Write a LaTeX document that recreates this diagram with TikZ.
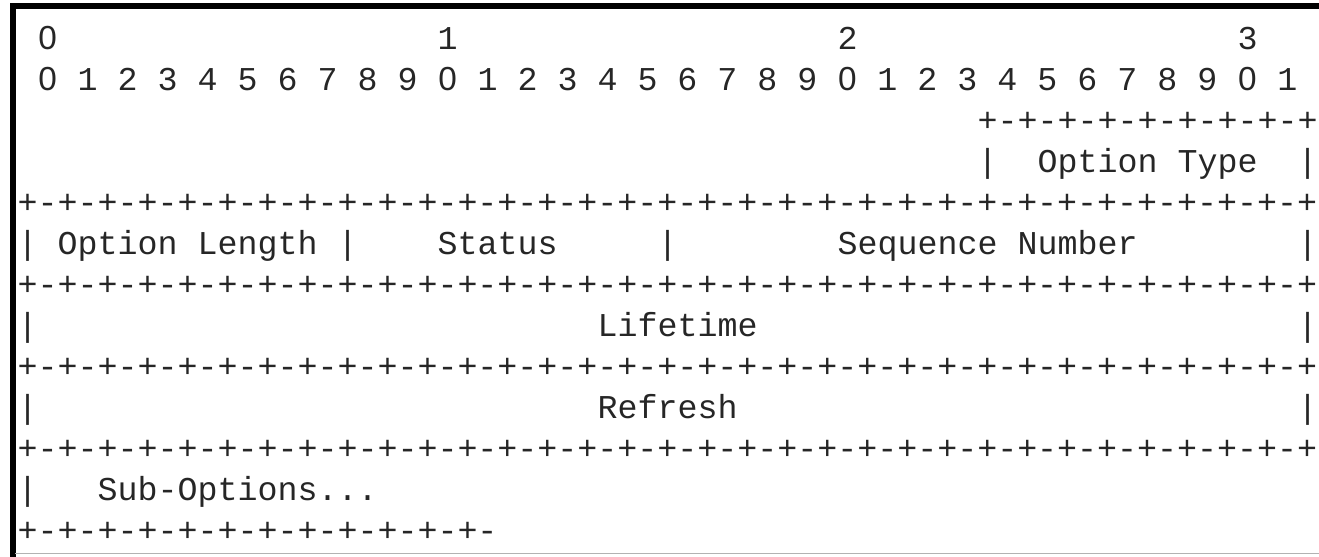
\documentclass[tikz,border=0pt]{standalone}
\usepackage{fontspec}
\setmonofont{Liberation Mono}
\newfontfamily\plainzero{Liberation Sans}
\frenchspacing

% one row of the bit ruler
\newcommand{\fullrule}{+-+-+-+-+-+-+-+-+-+-+-+-+-+-+-+-+-+-+-+-+-+-+-+-+-+-+-+-+-+-+-+-+}
% zero without the dot, kept in one mono cell
\newcommand{\nz}{\makebox[0.6em]{\plainzero 0}}

\begin{document}
\begin{tikzpicture}[
    x=0.2cm, y=-0.41cm, % one column = one character, one row = one text line
    txt/.style={font=\fontsize{9.48pt}{11pt}\selectfont\ttfamily, anchor=base west, inner sep=0pt, text=black!85},
    frame/.style={line width=0.06cm, black},
    baseline/.style={line width=0.01cm, gray!60},
]
\useasboundingbox (-0.17cm,0.49cm) rectangle (13.02cm,-5.07cm);

% Frame
\coordinate (fbl) at (-0.045cm,-5.2cm);
\coordinate (ftr) at (13.2cm,0.43cm);
\draw[frame] (fbl) |- (ftr);
\coordinate (bl) at (-0.02cm,-5.04cm);
\coordinate (br) at (13.2cm,-5.04cm);
\draw[baseline] (bl) -- (br);

% Bit numbers
\node[txt] (ten0) at (1,0) {\nz};
\node[txt] (ten1) at (21,0) {1};
\node[txt] (ten2) at (41,0) {2};
\node[txt] (ten3) at (61,0) {3};
\node[txt] (bits) at (1,1) {\nz{} 1 2 3 4 5 6 7 8 9 \nz{} 1 2 3 4 5 6 7 8 9 \nz{} 1 2 3 4 5 6 7 8 9 \nz{} 1};

% Option Type
\node[txt] (rule0) at (48,2) {+-+-+-+-+-+-+-+-+};
\node[txt] (bar0a) at (48,3) {|};
\node[txt] (optype) at (51,3) {Option Type};
\node[txt] (bar0b) at (64,3) {|};
\node[txt] (rule1) at (0,4) {\fullrule};

% Option Length, Status, Sequence Number
\node[txt] (bar1a) at (0,5) {|};
\node[txt] (optlen) at (2,5) {Option Length};
\node[txt] (bar1b) at (16,5) {|};
\node[txt] (status) at (21,5) {Status};
\node[txt] (bar1c) at (32,5) {|};
\node[txt] (seqnum) at (41,5) {Sequence Number};
\node[txt] (bar1d) at (64,5) {|};
\node[txt] (rule2) at (0,6) {\fullrule};

% Lifetime
\node[txt] (bar2a) at (0,7) {|};
\node[txt] (lifetime) at (29,7) {Lifetime};
\node[txt] (bar2b) at (64,7) {|};
\node[txt] (rule3) at (0,8) {\fullrule};

% Refresh
\node[txt] (bar3a) at (0,9) {|};
\node[txt] (refresh) at (29,9) {Refresh};
\node[txt] (bar3b) at (64,9) {|};
\node[txt] (rule4) at (0,10) {\fullrule};

% Sub-Options
\node[txt] (bar4a) at (0,11) {|};
\node[txt] (subopt) at (4,11) {Sub-Options...};
\node[txt] (rule5) at (0,12) {+-+-+-+-+-+-+-+-+-+-+-+-};

\end{tikzpicture}
\end{document}
